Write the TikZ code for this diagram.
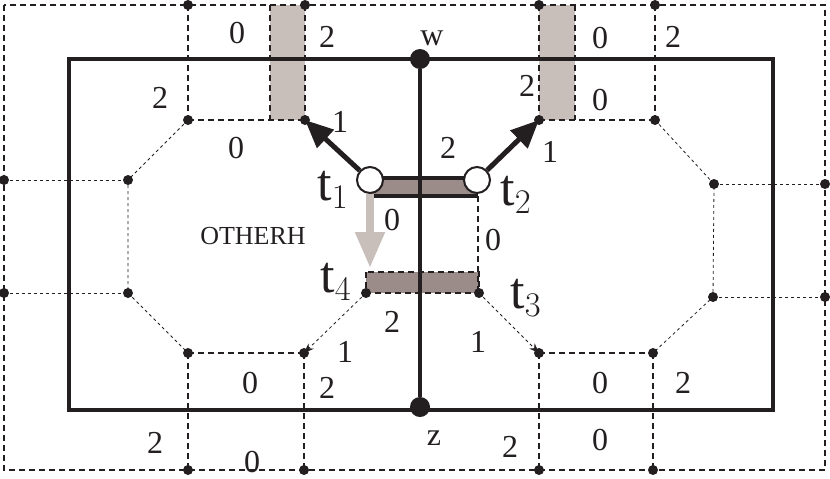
\documentclass[tikz,border=0pt]{standalone}
\usepackage{fontspec}
\setmainfont{Liberation Serif}
\usetikzlibrary{arrows.meta}
\definecolor{inkd}{RGB}{35,31,32}
\definecolor{shadel}{RGB}{200,190,186}
\definecolor{shaded}{RGB}{155,140,137}
\tikzset{
  pt/.style={circle,fill=inkd,inner sep=0pt,minimum size=5pt},
  gridl/.style={dashed,inkd,line width=0.6pt,dash pattern=on 3pt off 2pt},
  fine/.style={inkd,line width=0.4pt,dash pattern=on 1.5pt off 1.5pt},
  lbl/.style={inkd,font=\fontsize{16}{16}\selectfont},
  tl/.style={inkd,font=\fontsize{26}{26}\selectfont}
}
\begin{document}
\begin{tikzpicture}[x=0.5pt,y=-0.5pt]
                        \useasboundingbox (0,0) rectangle (830,478);
                        % shaded strips
                        \fill[shadel] (270,5) rectangle (305,120);
                        \fill[shadel] (539,5) rectangle (575,120);
                        \fill[shaded] (370,178) rectangle (478,196);
                        \draw[gridl,fill=shaded] (366,272) rectangle (479,293);
                        % outer grid
                        \draw[gridl] (4,5) rectangle (825,470);
                        \foreach \x in {188,270,305,539,575,655}
                            {\draw[gridl] (\x,5) -- (\x,120);}
                        \foreach \x in {188,304,539,653}
                            {\draw[gridl] (\x,353) -- (\x,470);}
                        \draw[gridl] (188,120) -- (305,120);
                        \draw[gridl] (539,120) -- (655,120);
                        \draw[gridl] (188,353) -- (304,353);
                        \draw[gridl] (539,353) -- (653,353);
                        \draw[gridl] (478,196) -- (478,293);
                        % octagons
                        \draw[fine] (188,120) -- (128,180) -- (128,293) -- (188,353);
                        \draw[fine] (655,120) -- (714,184) -- (713,297) -- (653,353);
                        \draw[fine] (4,180) -- (128,180);
                        \draw[fine] (4,293) -- (128,293);
                        \draw[fine] (714,184) -- (825,184);
                        \draw[fine] (713,297) -- (825,297);
                        \draw[fine,-{Stealth[length=5pt]}] (366,293) -- (304,353);
                        \draw[fine,-{Stealth[length=5pt]}] (479,293) -- (539,353);
                        % dots
                        \foreach \x/\y in {188/5,305/5,539/5,655/5,188/120,305/120,539/120,655/120,
                            4/180,128/180,4/293,128/293,714/184,825/184,713/297,825/297,
                            188/353,304/353,539/353,653/353,188/470,304/470,539/470,653/470,
                            366/293,479/293}
                            {\node[pt] at (\x,\y) {};}
                        % frame and axis
                        \draw[inkd,line width=2.2pt] (69,59) rectangle (773,410);
                        \node[pt,minimum size=10pt] (w) at (420,59) {};
                        \node[pt,minimum size=10pt] (z) at (420,407) {};
                        \draw[inkd,line width=2pt] (w) -- (z);
                        \draw[inkd,line width=2pt] (370,178) -- (478,178);
                        \draw[inkd,line width=2pt] (370,196) -- (478,196);
                        % robots
                        \node[circle,draw=inkd,fill=white,line width=1pt,minimum size=13pt,inner sep=0pt] (t1) at (370,180) {};
                        \node[circle,draw=inkd,fill=white,line width=1pt,minimum size=13pt,inner sep=0pt] (t2) at (477,180) {};
                        \coordinate (p1) at (305,120);
                        \coordinate (p2) at (539,120);
                        \coordinate (p4) at (370,268);
                        \draw[inkd,line width=2.5pt,-{Triangle[length=14pt,width=12pt]}] (t1) -- (p1);
                        \draw[inkd,line width=2.5pt,-{Triangle[length=14pt,width=12pt]}] (t2) -- (p2);
                        \draw[shadel,line width=4pt,-{Triangle[length=18pt,width=14pt]}] (370,194) -- (p4);
                        % labels
                        \node[lbl] at (237,33) {0};
                        \node[lbl] at (327,37) {2};
                        \node[lbl] at (432,38) {w};
                        \node[lbl] at (600,38) {0};
                        \node[lbl] at (673,37) {2};
                        \node[lbl] at (160,98) {2};
                        \node[lbl] at (527,86) {2};
                        \node[lbl] at (600,100) {0};
                        \node[lbl] at (236,148) {0};
                        \node[lbl] at (340,122) {1};
                        \node[lbl] at (448,148) {2};
                        \node[lbl] at (550,152) {1};
                        \node[tl] at (333,190) {t$_1$};
                        \node[tl] at (516,195) {t$_2$};
                        \node[inkd,font=\fontsize{13}{13}\selectfont] at (253,236) {OTHERH};
                        \node[lbl] at (392,220) {0};
                        \node[lbl] at (493,240) {0};
                        \node[tl] at (336,282) {t$_4$};
                        \node[tl] at (526,298) {t$_3$};
                        \node[lbl] at (392,322) {2};
                        \node[lbl] at (478,342) {1};
                        \node[lbl] at (345,352) {1};
                        \node[lbl] at (250,383) {0};
                        \node[lbl] at (327,388) {2};
                        \node[lbl] at (600,383) {0};
                        \node[lbl] at (683,383) {2};
                        \node[lbl] at (155,443) {2};
                        \node[lbl] at (434,438) {z};
                        \node[lbl] at (252,462) {0};
                        \node[lbl] at (510,447) {2};
                        \node[lbl] at (600,440) {0};
                    \end{tikzpicture}
\end{document}
